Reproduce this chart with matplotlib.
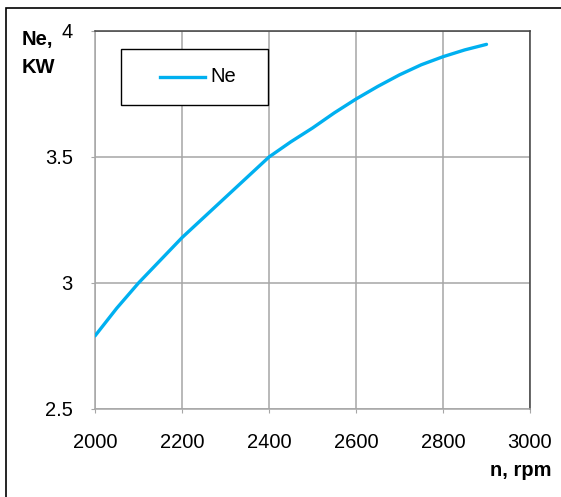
import matplotlib
matplotlib.use("Agg")
import matplotlib.pyplot as plt
import matplotlib.patches as patches

plt.rcParams['font.family'] = ['Liberation Sans', 'DejaVu Sans']

# engine speed, rpm and effective power, kW (every 50 rpm)
rpm = [2000, 2050, 2100, 2150, 2200, 2250, 2300, 2350, 2400, 2450,
       2500, 2550, 2600, 2650, 2700, 2750, 2800, 2850, 2900]
ne = [2.79, 2.90, 3.00, 3.09, 3.18, 3.26, 3.34, 3.42, 3.50, 3.56,
      3.615, 3.675, 3.73, 3.78, 3.826, 3.866, 3.898, 3.925, 3.947]

x_ticks = [2000, 2200, 2400, 2600, 2800, 3000]
y_ticks = [2.5, 3, 3.5, 4]
y_tick_labels = ['2.5', '3', '3.5', '4']

W, H = 561, 497
fig = plt.figure(figsize=(W / 100, H / 100), dpi=100)

# outer frame (only left and top edges visible in the picture)
fig.add_artist(patches.Rectangle((6 / W, -0.1), 1.2, 1 - 8 / H + 0.1,
                                 transform=fig.transFigure, fill=False,
                                 edgecolor='black', lw=1.2))

ax = fig.add_axes([95 / W, 1 - 409 / H, 435 / W, 378 / H])
ax.plot(rpm, ne, color='#00B0F0', lw=2.4, solid_capstyle='round',
        solid_joinstyle='round', zorder=3)

ax.set_xlim(2000, 3000)
ax.set_ylim(2.5, 4)
ax.set_xticks(x_ticks)
ax.set_yticks(y_ticks)
ax.set_yticklabels(y_tick_labels)
ax.grid(True, color='#a6a6a6', lw=1.1)
ax.tick_params(axis='both', labelsize=14.5, colors='#a6a6a6', labelcolor='black', length=3)
ax.tick_params(axis='x', pad=14)
ax.tick_params(axis='y', pad=13)
for s in ['left', 'bottom']:
    ax.spines[s].set_color('#a6a6a6')
for s in ['top', 'right']:
    ax.spines[s].set_color('#404040')
for s in ax.spines.values():
    s.set_linewidth(1.1)

# legend box
fig.add_artist(patches.Rectangle((121 / W, 1 - 105 / H), 147 / W, 56 / H,
                                 transform=fig.transFigure, facecolor='white',
                                 edgecolor='black', lw=1.0, zorder=5))
fig.add_artist(plt.Line2D([160 / W, 205 / W], [1 - 77 / H, 1 - 77 / H],
                          color='#00B0F0', lw=2.4, zorder=6))
fig.text(210 / W, 1 - 77 / H, 'Ne', fontsize=14.5, va='center', ha='left', zorder=6)

fig.text(22 / W, 1 - 30 / H, 'Ne,\nKW', fontsize=14.5, fontweight='bold',
         va='top', ha='left', linespacing=1.6)
fig.text(552 / W, 1 - 470 / H, 'n, rpm', fontsize=14.5, fontweight='bold',
         va='center', ha='right')

fig.savefig('out.png', dpi=100)
